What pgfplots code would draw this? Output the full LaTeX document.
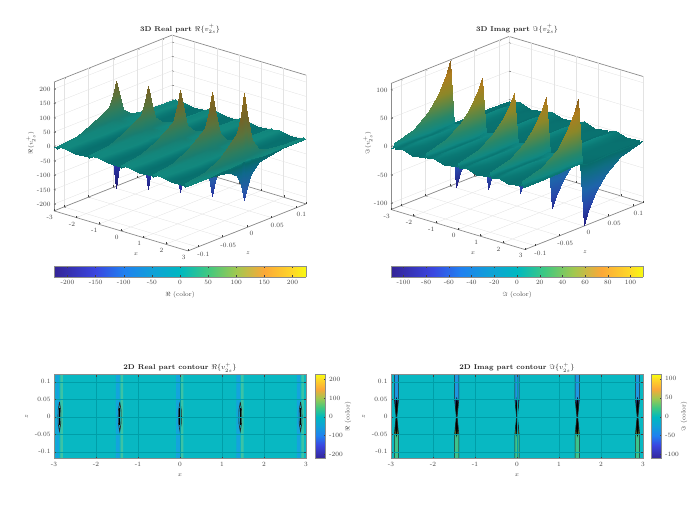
\documentclass[border=0pt]{standalone}
\usepackage{pgfplots}
\pgfplotsset{compat=1.18}
\definecolor{tk}{gray}{0.25}
\definecolor{ax}{gray}{0.55}
\definecolor{basecol}{RGB}{8,184,194}
\definecolor{gridcol}{RGB}{0,158,168}
\pgfplotsset{
  colormap={par}{rgb255(0pt)=(52,36,150); rgb255(74pt)=(58,70,224); rgb255(124pt)=(32,128,240); rgb255(174pt)=(16,160,216); rgb255(224pt)=(0,184,192); rgb255(274pt)=(64,200,128); rgb255(324pt)=(160,200,80); rgb255(374pt)=(252,168,56); rgb255(424pt)=(254,216,40); rgb255(448pt)=(248,250,16)},
  colormap={litre}{rgb255(0pt)=(32,26,112); rgb255(74pt)=(40,50,160); rgb255(124pt)=(40,90,170); rgb255(184pt)=(15,105,140); rgb255(216pt)=(8,106,106); rgb255(221pt)=(8,112,110); rgb255(224pt)=(10,120,116); rgb255(228pt)=(18,136,126); rgb255(244pt)=(25,125,112); rgb255(274pt)=(45,125,95); rgb255(324pt)=(90,115,60); rgb255(374pt)=(115,100,40); rgb255(448pt)=(150,110,25)},
  colormap={litim}{rgb255(0pt)=(35,30,130); rgb255(31pt)=(40,70,170); rgb255(61pt)=(30,100,170); rgb255(91pt)=(15,110,130); rgb255(105pt)=(8,108,108); rgb255(111pt)=(10,120,116); rgb255(115pt)=(16,136,130); rgb255(131pt)=(40,135,105); rgb255(151pt)=(90,135,70); rgb255(171pt)=(140,135,40); rgb255(201pt)=(175,125,30); rgb255(222pt)=(130,90,25)},
  common/.style={
    tick label style={font=\fontsize{6.5}{7}\selectfont, text=tk, /pgf/number format/assume math mode=true},
    label style={font=\fontsize{6.5}{7}\selectfont, text=tk},
    title style={font=\fontsize{7}{8}\selectfont, text=black!85},
    axis line style={ax, line width=0.7pt},
    tick style={tk, line width=0.3pt},
    major tick length=2pt,
    tick align=inside,
    scaled ticks=false,
    yticklabel style={/pgf/number format/fixed},
  },
  threed/.style={common,
    x={(22.33pt,-6.67pt)}, y={(491.7pt,195.8pt)},
    xmin=-3, xmax=3, ymin=-0.12, ymax=0.12,
    xtick={-3,-2,-1,0,1,2,3}, ytick={-0.1,-0.05,0,0.05,0.1},
    xtick pos=left, ytick pos=left, ztick pos=left,
    grid=major, grid style={gray!22, line width=0.35pt},
    clip=false,
    title style={yshift=-5pt},
    xlabel={$x$}, ylabel={$z$},
  },
  twod/.style={common,
    scale only axis, width=252pt, height=84pt,
    xmin=-3, xmax=3, ymin=-0.12, ymax=0.12,
    xtick={-3,-2,-1,0,1,2,3}, ytick={-0.1,-0.05,0,0.05,0.1},
    grid=major, grid style={gridcol, line width=0.3pt},
    axis on top, axis background/.style={fill=basecol},
    unbounded coords=jump,
    title style={yshift=-7pt},
    xlabel={$x$}, ylabel={$z$},
  },
  cbar/.style={common,
    scale only axis, view={0}{90}, colormap name=par, axis on top, enlargelimits=false,
  },
}
\begin{document}
\begin{tikzpicture}
\path[use as bounding box] (0,0) rectangle (699pt,505pt);

% 3D real part
\begin{axis}[threed, at={(180pt,362pt)}, anchor=origin,
  z={(0pt,0.2875pt)}, zmin=-224, zmax=224,
  ztick={-200,-150,-100,-50,0,50,100,150,200},
  zlabel={$\Re(v_{2s}^{+})$},
  title={\textbf{3D Real part} $\Re\{v_{2s}^{+}\}$},
  title style={at={(axis cs:0,0,393)}, anchor=center},
  xlabel style={at={(axis cs:1.89,-0.1755,-224)}, anchor=center},
  ylabel style={at={(axis cs:4.7,-0.075,-224)}, anchor=center},
  zlabel style={at={(axis cs:-3.82,-0.13,0)}, anchor=center},
]
\addplot3[surf, shader=interp, z buffer=none, colormap name=litre, point meta=z, point meta min=-224, point meta max=224,
  mesh/ordering=y varies, mesh/rows=13, mesh/cols=30] table {
-3 .12 -2
-3 .08 -2
-3 .05 -2
-3 .03 -2
-3 .015 -2
-3 .006 -2
-3 0 -2
-3 -.006 -2
-3 -.015 -2
-3 -.03 -2
-3 -.05 -2
-3 -.08 -2
-3 -.12 -2
-2.92 .12 -2
-2.92 .08 -3
-2.92 .05 -4
-2.92 .03 -5
-2.92 .015 -10
-2.92 .006 -17
-2.92 0 -24
-2.92 -.006 -14
-2.92 -.015 -8
-2.92 -.03 -4
-2.92 -.05 -3
-2.92 -.08 -2
-2.92 -.12 -2
-2.875 .12 -5
-2.875 .08 -10
-2.875 .05 -21
-2.875 .03 -34
-2.875 .015 -87
-2.875 .006 -153
-2.875 0 -224
-2.875 -.006 -125
-2.875 -.015 -63
-2.875 -.03 -25
-2.875 -.05 -14
-2.875 -.08 -7
-2.875 -.12 -5
-2.865 .12 4
-2.865 .08 6
-2.865 .05 10
-2.865 .03 18
-2.865 .015 43
-2.865 .006 103
-2.865 0 150
-2.865 -.006 106
-2.865 -.015 69
-2.865 -.03 52
-2.865 -.05 32
-2.865 -.08 13
-2.865 -.12 6
-2.82 .12 3
-2.82 .08 3
-2.82 .05 4
-2.82 .03 5
-2.82 .015 9
-2.82 .006 18
-2.82 0 25
-2.82 -.006 18
-2.82 -.015 13
-2.82 -.03 10
-2.82 -.05 7
-2.82 -.08 5
-2.82 -.12 3
-2.52 .12 4
-2.52 .08 4
-2.52 .05 4
-2.52 .03 4
-2.52 .015 5
-2.52 .006 5
-2.52 0 5
-2.52 -.006 5
-2.52 -.015 5
-2.52 -.03 6
-2.52 -.05 6
-2.52 -.08 5
-2.52 -.12 4
-2.07 .12 -3
-2.07 .08 -3
-2.07 .05 -3
-2.07 .03 -3
-2.07 .015 -3
-2.07 .006 -3
-2.07 0 -3
-2.07 -.006 -3
-2.07 -.015 -3
-2.07 -.03 -3
-2.07 -.05 -3
-2.07 -.08 -3
-2.07 -.12 -3
-1.485 .12 -2
-1.485 .08 -3
-1.485 .05 -4
-1.485 .03 -5
-1.485 .015 -9
-1.485 .006 -15
-1.485 0 -21
-1.485 -.006 -13
-1.485 -.015 -7
-1.485 -.03 -4
-1.485 -.05 -3
-1.485 -.08 -2
-1.485 -.12 -2
-1.44 .12 -5
-1.44 .08 -9
-1.44 .05 -18
-1.44 .03 -30
-1.44 .015 -76
-1.44 .006 -133
-1.44 0 -194
-1.44 -.006 -108
-1.44 -.015 -55
-1.44 -.03 -22
-1.44 -.05 -13
-1.44 -.08 -7
-1.44 -.12 -5
-1.43 .12 5
-1.43 .08 6
-1.43 .05 11
-1.43 .03 19
-1.43 .015 47
-1.43 .006 114
-1.43 0 166
-1.43 -.006 117
-1.43 -.015 76
-1.43 -.03 57
-1.43 -.05 36
-1.43 -.08 14
-1.43 -.12 6
-1.385 .12 3
-1.385 .08 3
-1.385 .05 4
-1.385 .03 5
-1.385 .015 10
-1.385 .006 20
-1.385 0 27
-1.385 -.006 20
-1.385 -.015 14
-1.385 -.03 11
-1.385 -.05 8
-1.385 -.08 5
-1.385 -.12 3
-1.05 .12 4
-1.05 .08 4
-1.05 .05 4
-1.05 .03 4
-1.05 .015 5
-1.05 .006 5
-1.05 0 5
-1.05 -.006 5
-1.05 -.015 5
-1.05 -.03 6
-1.05 -.05 6
-1.05 -.08 5
-1.05 -.12 4
-.6 .12 -3
-.6 .08 -3
-.6 .05 -3
-.6 .03 -3
-.6 .015 -3
-.6 .006 -3
-.6 0 -3
-.6 -.006 -3
-.6 -.015 -3
-.6 -.03 -3
-.6 -.05 -3
-.6 -.08 -3
-.6 -.12 -3
-.05 .12 -2
-.05 .08 -3
-.05 .05 -3
-.05 .03 -4
-.05 .015 -8
-.05 .006 -13
-.05 0 -19
-.05 -.006 -11
-.05 -.015 -7
-.05 -.03 -4
-.05 -.05 -3
-.05 -.08 -2
-.05 -.12 -2
-.005 .12 -5
-.005 .08 -8
-.005 .05 -16
-.005 .03 -27
-.005 .015 -67
-.005 .006 -117
-.005 0 -171
-.005 -.006 -95
-.005 -.015 -48
-.005 -.03 -20
-.005 -.05 -11
-.005 -.08 -6
-.005 -.12 -5
.005 .12 5
.005 .08 7
.005 .05 12
.005 .03 21
.005 .015 52
.005 .006 127
.005 0 186
.005 -.006 131
.005 -.015 85
.005 -.03 63
.005 -.05 40
.005 -.08 16
.005 -.12 7
.05 .12 3
.05 .08 4
.05 .05 4
.05 .03 6
.05 .015 10
.05 .006 22
.05 0 30
.05 -.006 22
.05 -.015 15
.05 -.03 12
.05 -.05 9
.05 -.08 5
.05 -.12 4
.35 .12 4
.35 .08 4
.35 .05 4
.35 .03 4
.35 .015 5
.35 .006 5
.35 0 5
.35 -.006 5
.35 -.015 5
.35 -.03 6
.35 -.05 6
.35 -.08 5
.35 -.12 4
.8 .12 -3
.8 .08 -3
.8 .05 -3
.8 .03 -3
.8 .015 -3
.8 .006 -3
.8 0 -3
.8 -.006 -3
.8 -.015 -3
.8 -.03 -3
.8 -.05 -3
.8 -.08 -3
.8 -.12 -3
1.385 .12 -2
1.385 .08 -2
1.385 .05 -3
1.385 .03 -4
1.385 .015 -8
1.385 .006 -12
1.385 0 -17
1.385 -.006 -10
1.385 -.015 -6
1.385 -.03 -4
1.385 -.05 -3
1.385 -.08 -2
1.385 -.12 -2
1.43 .12 -4
1.43 .08 -7
1.43 .05 -15
1.43 .03 -24
1.43 .015 -59
1.43 .006 -104
1.43 0 -151
1.43 -.006 -84
1.43 -.015 -43
1.43 -.03 -18
1.43 -.05 -10
1.43 -.08 -6
1.43 -.12 -4
1.44 .12 5
1.44 .08 7
1.44 .05 13
1.44 .03 24
1.44 .015 59
1.44 .006 144
1.44 0 211
1.44 -.006 149
1.44 -.015 97
1.44 -.03 72
1.44 -.05 45
1.44 -.08 18
1.44 -.12 7
1.485 .12 3
1.485 .08 4
1.485 .05 5
1.485 .03 6
1.485 .015 11
1.485 .006 24
1.485 0 34
1.485 -.006 25
1.485 -.015 17
1.485 -.03 13
1.485 -.05 9
1.485 -.08 5
1.485 -.12 4
1.8 .12 4
1.8 .08 4
1.8 .05 4
1.8 .03 4
1.8 .015 5
1.8 .006 5
1.8 0 5
1.8 -.006 5
1.8 -.015 5
1.8 -.03 6
1.8 -.05 6
1.8 -.08 5
1.8 -.12 4
2.25 .12 -3
2.25 .08 -3
2.25 .05 -3
2.25 .03 -3
2.25 .015 -3
2.25 .006 -3
2.25 0 -3
2.25 -.006 -3
2.25 -.015 -3
2.25 -.03 -3
2.25 -.05 -3
2.25 -.08 -3
2.25 -.12 -3
2.82 .12 -2
2.82 .08 -2
2.82 .05 -3
2.82 .03 -4
2.82 .015 -7
2.82 .006 -11
2.82 0 -15
2.82 -.006 -9
2.82 -.015 -6
2.82 -.03 -3
2.82 -.05 -3
2.82 -.08 -2
2.82 -.12 -2
2.865 .12 -4
2.865 .08 -7
2.865 .05 -13
2.865 .03 -21
2.865 .015 -52
2.865 .006 -91
2.865 0 -133
2.865 -.006 -75
2.865 -.015 -38
2.865 -.03 -16
2.865 -.05 -10
2.865 -.08 -6
2.865 -.12 -4
2.875 .12 5
2.875 .08 8
2.875 .05 15
2.875 .03 27
2.875 .015 67
2.875 .006 164
2.875 0 240
2.875 -.006 169
2.875 -.015 110
2.875 -.03 81
2.875 -.05 50
2.875 -.08 20
2.875 -.12 8
2.92 .12 3
2.92 .08 4
2.92 .05 5
2.92 .03 7
2.92 .015 13
2.92 .006 27
2.92 0 39
2.92 -.006 28
2.92 -.015 19
2.92 -.03 15
2.92 -.05 10
2.92 -.08 6
2.92 -.12 4
3 .12 3
3 .08 3
3 .05 4
3 .03 5
3 .015 7
3 .006 12
3 0 16
3 -.006 12
3 -.015 9
3 -.03 8
3 -.05 6
3 -.08 4
3 -.12 3
};
\end{axis}

% 3D imaginary part
\begin{axis}[threed, at={(517pt,362pt)}, anchor=origin,
  z={(0pt,0.568pt)}, zmin=-111, zmax=111,
  ztick={-100,-50,0,50,100},
  zlabel={$\Im(v_{2s}^{+})$},
  title={\textbf{3D Imag part} $\Im\{v_{2s}^{+}\}$},
  title style={at={(axis cs:0,0,199)}, anchor=center},
  xlabel style={at={(axis cs:1.89,-0.1755,-111)}, anchor=center},
  ylabel style={at={(axis cs:4.7,-0.075,-111)}, anchor=center},
  zlabel style={at={(axis cs:-3.82,-0.13,0)}, anchor=center},
]
\addplot3[surf, shader=interp, z buffer=none, colormap name=litim, point meta=z, point meta min=-111, point meta max=111,
  mesh/ordering=y varies, mesh/rows=13, mesh/cols=25] table {
-3 .12 -2
-3 .08 -2
-3 .05 -2
-3 .03 -2
-3 .015 -2
-3 .006 -2
-3 0 -2
-3 -.006 -2
-3 -.015 -2
-3 -.03 -2
-3 -.05 -2
-3 -.08 -2
-3 -.12 -2
-2.93 .12 -3
-2.93 .08 -3
-2.93 .05 -3
-2.93 .03 -4
-2.93 .015 -6
-2.93 .006 -7
-2.93 0 -2
-2.93 -.006 3
-2.93 -.015 2
-2.93 -.03 0
-2.93 -.05 -1
-2.93 -.08 -1
-2.93 -.12 -2
-2.87 .12 -8
-2.87 .08 -19
-2.87 .05 -38
-2.87 .03 -62
-2.87 .015 -92
-2.87 .006 -113
-2.87 0 0
-2.87 -.006 113
-2.87 -.015 92
-2.87 -.03 62
-2.87 -.05 38
-2.87 -.08 19
-2.87 -.12 8
-2.81 .12 -3
-2.81 .08 -3
-2.81 .05 -3
-2.81 .03 -4
-2.81 .015 -6
-2.81 .006 -7
-2.81 0 -2
-2.81 -.006 3
-2.81 -.015 2
-2.81 -.03 0
-2.81 -.05 -1
-2.81 -.08 -1
-2.81 -.12 -2
-2.52 .12 1
-2.52 .08 4
-2.52 .05 4
-2.52 .03 4
-2.52 .015 4
-2.52 .006 4
-2.52 0 4
-2.52 -.006 4
-2.52 -.015 4
-2.52 -.03 4
-2.52 -.05 4
-2.52 -.08 4
-2.52 -.12 1
-2.07 .12 -5
-2.07 .08 -3
-2.07 .05 -3
-2.07 .03 -3
-2.07 .015 -3
-2.07 .006 -3
-2.07 0 -3
-2.07 -.006 -3
-2.07 -.015 -3
-2.07 -.03 -3
-2.07 -.05 -3
-2.07 -.08 -3
-2.07 -.12 -5
-1.495 .12 -3
-1.495 .08 -3
-1.495 .05 -3
-1.495 .03 -4
-1.495 .015 -6
-1.495 .006 -7
-1.495 0 -2
-1.495 -.006 3
-1.495 -.015 2
-1.495 -.03 0
-1.495 -.05 -1
-1.495 -.08 -1
-1.495 -.12 -2
-1.435 .12 -7
-1.435 .08 -17
-1.435 .05 -34
-1.435 .03 -55
-1.435 .015 -81
-1.435 .006 -100
-1.435 0 0
-1.435 -.006 100
-1.435 -.015 81
-1.435 -.03 55
-1.435 -.05 34
-1.435 -.08 17
-1.435 -.12 7
-1.375 .12 -3
-1.375 .08 -3
-1.375 .05 -3
-1.375 .03 -4
-1.375 .015 -6
-1.375 .006 -7
-1.375 0 -2
-1.375 -.006 3
-1.375 -.015 2
-1.375 -.03 0
-1.375 -.05 -1
-1.375 -.08 -1
-1.375 -.12 -2
-1.085 .12 1
-1.085 .08 4
-1.085 .05 4
-1.085 .03 4
-1.085 .015 4
-1.085 .006 4
-1.085 0 4
-1.085 -.006 4
-1.085 -.015 4
-1.085 -.03 4
-1.085 -.05 4
-1.085 -.08 4
-1.085 -.12 1
-.635 .12 -5
-.635 .08 -3
-.635 .05 -3
-.635 .03 -3
-.635 .015 -3
-.635 .006 -3
-.635 0 -3
-.635 -.006 -3
-.635 -.015 -3
-.635 -.03 -3
-.635 -.05 -3
-.635 -.08 -3
-.635 -.12 -5
-.06 .12 -3
-.06 .08 -3
-.06 .05 -3
-.06 .03 -4
-.06 .015 -6
-.06 .006 -7
-.06 0 -2
-.06 -.006 3
-.06 -.015 2
-.06 -.03 0
-.06 -.05 -1
-.06 -.08 -1
-.06 -.12 -2
0 .12 -6
0 .08 -15
0 .05 -31
0 .03 -50
0 .015 -73
0 .006 -90
0 0 0
0 -.006 90
0 -.015 73
0 -.03 50
0 -.05 31
0 -.08 15
0 -.12 6
.06 .12 -3
.06 .08 -3
.06 .05 -3
.06 .03 -4
.06 .015 -6
.06 .006 -7
.06 0 -2
.06 -.006 3
.06 -.015 2
.06 -.03 0
.06 -.05 -1
.06 -.08 -1
.06 -.12 -2
.35 .12 1
.35 .08 4
.35 .05 4
.35 .03 4
.35 .015 4
.35 .006 4
.35 0 4
.35 -.006 4
.35 -.015 4
.35 -.03 4
.35 -.05 4
.35 -.08 4
.35 -.12 1
.8 .12 -5
.8 .08 -3
.8 .05 -3
.8 .03 -3
.8 .015 -3
.8 .006 -3
.8 0 -3
.8 -.006 -3
.8 -.015 -3
.8 -.03 -3
.8 -.05 -3
.8 -.08 -3
.8 -.12 -5
1.375 .12 -3
1.375 .08 -3
1.375 .05 -3
1.375 .03 -4
1.375 .015 -6
1.375 .006 -7
1.375 0 -2
1.375 -.006 3
1.375 -.015 2
1.375 -.03 0
1.375 -.05 -1
1.375 -.08 -1
1.375 -.12 -2
1.435 .12 -7
1.435 .08 -17
1.435 .05 -34
1.435 .03 -55
1.435 .015 -81
1.435 .006 -100
1.435 0 0
1.435 -.006 100
1.435 -.015 81
1.435 -.03 55
1.435 -.05 34
1.435 -.08 17
1.435 -.12 7
1.495 .12 -3
1.495 .08 -3
1.495 .05 -3
1.495 .03 -4
1.495 .015 -6
1.495 .006 -7
1.495 0 -2
1.495 -.006 3
1.495 -.015 2
1.495 -.03 0
1.495 -.05 -1
1.495 -.08 -1
1.495 -.12 -2
1.785 .12 1
1.785 .08 4
1.785 .05 4
1.785 .03 4
1.785 .015 4
1.785 .006 4
1.785 0 4
1.785 -.006 4
1.785 -.015 4
1.785 -.03 4
1.785 -.05 4
1.785 -.08 4
1.785 -.12 1
2.235 .12 -5
2.235 .08 -3
2.235 .05 -3
2.235 .03 -3
2.235 .015 -3
2.235 .006 -3
2.235 0 -3
2.235 -.006 -3
2.235 -.015 -3
2.235 -.03 -3
2.235 -.05 -3
2.235 -.08 -3
2.235 -.12 -5
2.81 .12 -3
2.81 .08 -3
2.81 .05 -3
2.81 .03 -4
2.81 .015 -6
2.81 .006 -7
2.81 0 -2
2.81 -.006 3
2.81 -.015 2
2.81 -.03 0
2.81 -.05 -1
2.81 -.08 -1
2.81 -.12 -2
2.87 .12 -8
2.87 .08 -19
2.87 .05 -38
2.87 .03 -62
2.87 .015 -92
2.87 .006 -113
2.87 0 0
2.87 -.006 113
2.87 -.015 92
2.87 -.03 62
2.87 -.05 38
2.87 -.08 19
2.87 -.12 8
2.93 .12 -3
2.93 .08 -3
2.93 .05 -3
2.93 .03 -4
2.93 .015 -6
2.93 .006 -7
2.93 0 -2
2.93 -.006 3
2.93 -.015 2
2.93 -.03 0
2.93 -.05 -1
2.93 -.08 -1
2.93 -.12 -2
3 .12 -2
3 .08 -2
3 .05 -2
3 .03 -3
3 .015 -4
3 .006 -4
3 0 -2
3 -.006 2
3 -.015 2
3 -.03 1
3 -.05 0
3 -.08 0
3 -.12 -1
};
\end{axis}

% horizontal colorbars
\begin{axis}[cbar, at={(54pt,228pt)}, anchor=south west, width=252pt, height=10.5pt,
  xmin=-224, xmax=224, ymin=0, ymax=1, ytick=\empty,
  xtick={-200,-150,-100,-50,0,50,100,150,200}, xlabel={$\Re$ (color)}]
\addplot3[surf, shader=interp, point meta=x, point meta min=-224, point meta max=224] coordinates {
  (-224,0,0) (224,0,0)

  (-224,1,0) (224,1,0)
};
\end{axis}
\begin{axis}[cbar, at={(391pt,228pt)}, anchor=south west, width=252pt, height=10.5pt,
  xmin=-111, xmax=111, ymin=0, ymax=1, ytick=\empty,
  xtick={-100,-80,-60,-40,-20,0,20,40,60,80,100}, xlabel={$\Im$ (color)}]
\addplot3[surf, shader=interp, point meta=x, point meta min=-111, point meta max=111] coordinates {
  (-111,0,0) (111,0,0)

  (-111,1,0) (111,1,0)
};
\end{axis}

% 2D real part
\begin{axis}[twod, at={(54pt,46.3pt)}, anchor=south west,
  title={\textbf{2D Real part contour} $\Re\{v_{2s}^{+}\}$}]
\addplot[fill={rgb,255:red,20;green,164;blue,220}, draw=none] coordinates {
(-2.96,.12)(-2.96,-.12)(-2.875,-.12)(-2.875,.12)(-1.525,.12)(-1.525,-.12)(-1.44,-.12)(-1.44,.12)(-.09,.12)(-.09,-.12)(-.005,-.12)(-.005,.12)(1.345,.12)(1.345,-.12)(1.43,-.12)(1.43,.12)(2.78,.12)(2.78,-.12)(2.865,-.12)(2.865,.12)};
\addplot[fill={rgb,255:red,60;green,195;blue,165}, draw=none] coordinates {
(-2.85,.12)(-2.85,-.12)(-2.79,-.12)(-2.79,.12)(-1.415,.12)(-1.415,-.12)(-1.355,-.12)(-1.355,.12)(.02,.12)(.02,-.12)(.08,-.12)(.08,.12)(1.455,.12)(1.455,-.12)(1.515,-.12)(1.515,.12)(2.89,.12)(2.89,-.12)(2.95,-.12)(2.95,.12)};
\addplot[black!85, line width=0.6pt] coordinates {
(-2.87,.042)(-2.84,.02)(-2.835,0)(-2.84,-.02)(-2.87,-.042)(-2.9,-.02)(-2.905,0)(-2.9,.02)(-2.87,.042)(nan,nan)
(-1.435,.042)(-1.405,.02)(-1.4,0)(-1.405,-.02)(-1.435,-.042)(-1.465,-.02)(-1.47,0)(-1.465,.02)(-1.435,.042)(nan,nan)
(0,.042)(.03,.02)(.035,0)(.03,-.02)(0,-.042)(-.03,-.02)(-.035,0)(-.03,.02)(0,.042)(nan,nan)
(1.435,.042)(1.465,.02)(1.47,0)(1.465,-.02)(1.435,-.042)(1.405,-.02)(1.4,0)(1.405,.02)(1.435,.042)(nan,nan)
(2.87,.042)(2.9,.02)(2.905,0)(2.9,-.02)(2.87,-.042)(2.84,-.02)(2.835,0)(2.84,.02)(2.87,.042)};
\addplot[black, line width=1.4pt] coordinates {
(-2.87,.025)(-2.87,-.025)(nan,nan)(-1.435,.025)(-1.435,-.025)(nan,nan)(0,.025)(0,-.025)(nan,nan)(1.435,.025)(1.435,-.025)(nan,nan)(2.87,.025)(2.87,-.025)};
\end{axis}
\begin{axis}[cbar, at={(315pt,46.3pt)}, anchor=south west, width=10.7pt, height=84pt,
  xmin=0, xmax=1, ymin=-224, ymax=224, xtick=\empty, ytick pos=right, yticklabel pos=right,
  ytick={-200,-100,0,100,200}, ylabel={$\Re$ (color)},
  ylabel style={at={(axis description cs:3.08,0.5)}, anchor=center}]
\addplot3[surf, shader=interp, point meta=y, point meta min=-224, point meta max=224] coordinates {
  (0,-224,0) (1,-224,0)

  (0,224,0) (1,224,0)
};
\end{axis}

% 2D imaginary part
\begin{axis}[twod, at={(391pt,46.3pt)}, anchor=south west,
  title={\textbf{2D Imag part contour} $\Im\{v_{2s}^{+}\}$}]
\addplot[fill={rgb,255:red,30;green,150;blue,225}, draw=none] coordinates {
(-2.92,.12)(-2.92,.05)(-2.82,.05)(-2.82,.12)(-1.485,.12)(-1.485,.05)(-1.385,.05)(-1.385,.12)(-.05,.12)(-.05,.05)(.05,.05)(.05,.12)(1.385,.12)(1.385,.05)(1.485,.05)(1.485,.12)(2.82,.12)(2.82,.05)(2.92,.05)(2.92,.12)};
\addplot[fill={rgb,255:red,60;green,195;blue,140}, draw=none] coordinates {
(-2.92,-.12)(-2.92,-.05)(-2.82,-.05)(-2.82,-.12)(-1.485,-.12)(-1.485,-.05)(-1.385,-.05)(-1.385,-.12)(-.05,-.12)(-.05,-.05)(.05,-.05)(.05,-.12)(1.385,-.12)(1.385,-.05)(1.485,-.05)(1.485,-.12)(2.82,-.12)(2.82,-.05)(2.92,-.05)(2.92,-.12)};
\addplot[fill={rgb,255:red,25;green,60;blue,130}, draw=none] coordinates {
(-2.92,.05)(-2.87,0)(-2.82,.05)(-1.485,.05)(-1.435,0)(-1.385,.05)(-.05,.05)(0,0)(.05,.05)(1.385,.05)(1.435,0)(1.485,.05)(2.82,.05)(2.87,0)(2.92,.05)};
\addplot[fill={rgb,255:red,90;green,110;blue,40}, draw=none] coordinates {
(-2.92,-.05)(-2.87,0)(-2.82,-.05)(-1.485,-.05)(-1.435,0)(-1.385,-.05)(-.05,-.05)(0,0)(.05,-.05)(1.385,-.05)(1.435,0)(1.485,-.05)(2.82,-.05)(2.87,0)(2.92,-.05)};
\addplot[black, fill=black] coordinates {
(-2.87,.055)(-2.84,.03)(-2.87,0)(-2.84,-.03)(-2.87,-.055)(-2.9,-.03)(-2.87,0)(-2.9,.03)};
\addplot[black, fill=black] coordinates {
(-1.435,.055)(-1.405,.03)(-1.435,0)(-1.405,-.03)(-1.435,-.055)(-1.465,-.03)(-1.435,0)(-1.465,.03)};
\addplot[black, fill=black] coordinates {
(0,.055)(.03,.03)(0,0)(.03,-.03)(0,-.055)(-.03,-.03)(0,0)(-.03,.03)};
\addplot[black, fill=black] coordinates {
(1.435,.055)(1.465,.03)(1.435,0)(1.465,-.03)(1.435,-.055)(1.405,-.03)(1.435,0)(1.405,.03)};
\addplot[black, fill=black] coordinates {
(2.87,.055)(2.9,.03)(2.87,0)(2.9,-.03)(2.87,-.055)(2.84,-.03)(2.87,0)(2.84,.03)};
\addplot[black!85, line width=0.6pt] coordinates {
(-2.92,.12)(-2.92,.05)(-2.88,0)(-2.92,-.05)(-2.92,-.12)(nan,nan)(-2.82,.12)(-2.82,.05)(-2.86,0)(-2.82,-.05)(-2.82,-.12)(nan,nan)
(-1.485,.12)(-1.485,.05)(-1.445,0)(-1.485,-.05)(-1.485,-.12)(nan,nan)(-1.385,.12)(-1.385,.05)(-1.425,0)(-1.385,-.05)(-1.385,-.12)(nan,nan)
(-.05,.12)(-.05,.05)(-.01,0)(-.05,-.05)(-.05,-.12)(nan,nan)(.05,.12)(.05,.05)(.01,0)(.05,-.05)(.05,-.12)(nan,nan)
(1.385,.12)(1.385,.05)(1.425,0)(1.385,-.05)(1.385,-.12)(nan,nan)(1.485,.12)(1.485,.05)(1.445,0)(1.485,-.05)(1.485,-.12)(nan,nan)
(2.82,.12)(2.82,.05)(2.86,0)(2.82,-.05)(2.82,-.12)(nan,nan)(2.92,.12)(2.92,.05)(2.88,0)(2.92,-.05)(2.92,-.12)};
\end{axis}
\begin{axis}[cbar, at={(651pt,46.3pt)}, anchor=south west, width=10.7pt, height=84pt,
  xmin=0, xmax=1, ymin=-111, ymax=111, xtick=\empty, ytick pos=right, yticklabel pos=right,
  ytick={-100,-50,0,50,100}, ylabel={$\Im$ (color)},
  ylabel style={at={(axis description cs:3.08,0.5)}, anchor=center}]
\addplot3[surf, shader=interp, point meta=y, point meta min=-111, point meta max=111] coordinates {
  (0,-111,0) (1,-111,0)

  (0,111,0) (1,111,0)
};
\end{axis}
\end{tikzpicture}
\end{document}
